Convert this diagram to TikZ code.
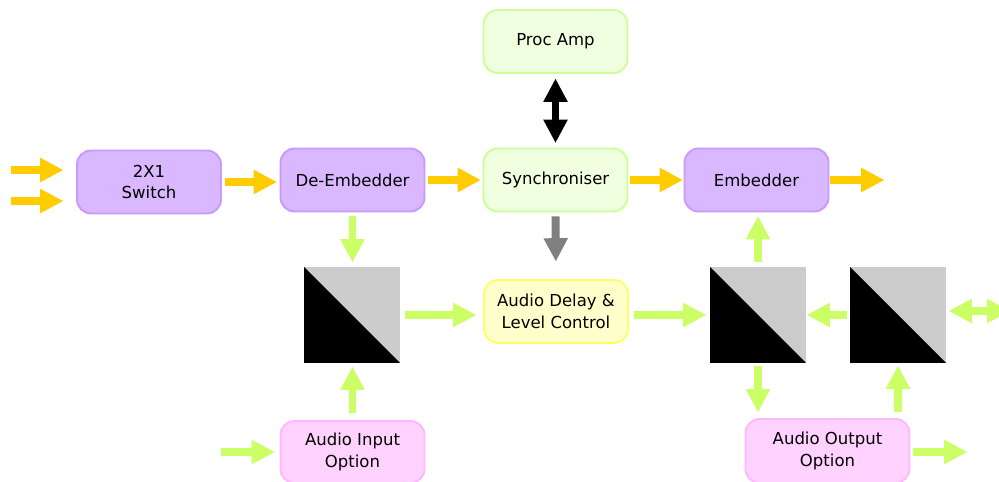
\documentclass[tikz,border=0pt]{standalone}
\usepackage{fontspec}
\setmainfont{DejaVu Sans}
\usetikzlibrary{arrows.meta}

\definecolor{purplefill}{HTML}{D9B8FF}
\definecolor{purpleline}{HTML}{C899FF}
\definecolor{greenfill}{HTML}{EFFFDF}
\definecolor{greenline}{HTML}{CCFF99}
\definecolor{yellowfill}{HTML}{FFFFCC}
\definecolor{yellowline}{HTML}{FFFF66}
\definecolor{pinkfill}{HTML}{FFD2FF}
\definecolor{pinkline}{HTML}{FFB8FF}
\definecolor{goldarrow}{HTML}{FFCC00}
\definecolor{limearrow}{HTML}{CCFF66}
\definecolor{greyarrow}{HTML}{808080}

\tikzset{
  Fat/.tip={Triangle[width=14pt,length=13pt,line width=0pt]},
  block/.style={draw, line width=1.1pt, rounded corners=8pt, align=center,
                minimum width=2.88cm, minimum height=1.26cm},
  purpleblk/.style={block, fill=purplefill, draw=purpleline},
  greenblk/.style={block, fill=greenfill, draw=greenline},
  yellowblk/.style={block, fill=yellowfill, draw=yellowline},
  pinkblk/.style={block, fill=pinkfill, draw=pinkline},
  mixer/.style={fill=gray!40, minimum size=1.92cm, inner sep=0pt, outer sep=0pt},
  fatline/.style={line width=4.5pt, -Fat},
  goldflow/.style={fatline, draw=goldarrow, fill=goldarrow},
  limeflow/.style={fatline, draw=limearrow, fill=limearrow},
}

\begin{document}
\begin{tikzpicture}[x=0.02cm, y=-0.02cm, font=\fontsize{9.4}{12.5}\selectfont]

\useasboundingbox (0,0) rectangle (999,482);

% Video path
\node[purpleblk] (switch) at (149,182) {2X1\\Switch};
\node[purpleblk] (demb) at (352.5,180) {De-Embedder};
\node[greenblk] (sync) at (555.5,180) {Synchroniser};
\node[greenblk] (proc) at (555.5,41.5) {Proc Amp};
\node[purpleblk] (emb) at (756.5,180) {Embedder};

% Audio path
\node[yellowblk] (delay) at (556,311.5) {Audio Delay \&\\Level Control};
\node[pinkblk, minimum height=1.24cm] (ain) at (352.5,452) {Audio Input\\Option};
\node[pinkblk, minimum width=3.28cm, minimum height=1.28cm] (aout) at (827.5,451) {Audio Output\\Option};

% Routing squares
\foreach \name/\x in {sqa/352, sqb/758, sqc/898} {
  \node[mixer] (\name) at (\x,315) {};
  \fill (\name.north west) -- (\name.south east) -- (\name.south west) -- cycle;
}

% Free ends
\coordinate (inA) at (11,170);
\coordinate (inB) at (11,201);
\coordinate (vidout) at (884,181);
\coordinate (audin) at (221,452);
\coordinate (audout) at (967,452);
\coordinate (ext) at (1010,311);

% Yellow arrows
\draw[goldflow, shorten >=13*0.02cm] (inA) -- (inA -| switch.west);
\draw[goldflow, shorten >=13*0.02cm] (inB) -- (inB -| switch.west);
\draw[goldflow, shorten <=3*0.02cm, shorten >=3*0.02cm] (switch.east) -- (switch.east -| demb.west);
\draw[goldflow, shorten <=3*0.02cm, shorten >=2*0.02cm] (demb.east) -- (sync.west);
\draw[goldflow, shorten <=2*0.02cm, shorten >=1*0.02cm] (sync.east) -- (emb.west);
\draw[goldflow, shorten <=1*0.02cm] (emb.east) -- (emb.east -| vidout);

% Control arrows
\draw[line width=4.5pt, Fat-Fat, shorten <=5*0.02cm, shorten >=5*0.02cm] (proc.south) -- (sync.north);
\draw[fatline, greyarrow, shorten <=4*0.02cm, shorten >=18*0.02cm] (sync.south) -- (delay.north);

% Green arrows
\draw[limeflow, shorten <=4*0.02cm, shorten >=5*0.02cm] (demb.south) -- (demb.south |- sqa.north);
\draw[limeflow, shorten <=5*0.02cm, shorten >=7*0.02cm] (sqa.east) -- (sqa.east -| delay.west);
\draw[limeflow, shorten <=5*0.02cm, shorten >=4*0.02cm] (delay.east |- sqb.west) -- (sqb.west);
\draw[limeflow, shorten <=5*0.02cm, shorten >=4*0.02cm] (sqb.north) -- (sqb.north |- emb.south);
\draw[limeflow, shorten <=3*0.02cm, shorten >=1*0.02cm] (sqc.west) -- (sqb.east);
\draw[limeflow, Fat-Fat, shorten <=3*0.02cm] (sqc.east |- ext) -- (ext);
\draw[limeflow, shorten <=7*0.02cm, shorten >=4*0.02cm] (ain.north) -- (ain.north |- sqa.south);
\draw[limeflow, shorten >=5*0.02cm] (audin) -- (ain.west);
\draw[limeflow, shorten <=3*0.02cm, shorten >=6*0.02cm] (sqb.south) -- (sqb.south |- aout.north);
\draw[limeflow, shorten <=6*0.02cm, shorten >=3*0.02cm] (sqc.south |- aout.north) -- (sqc.south);
\draw[limeflow, shorten <=3*0.02cm] (aout.east |- audout) -- (audout);

\end{tikzpicture}
\end{document}
